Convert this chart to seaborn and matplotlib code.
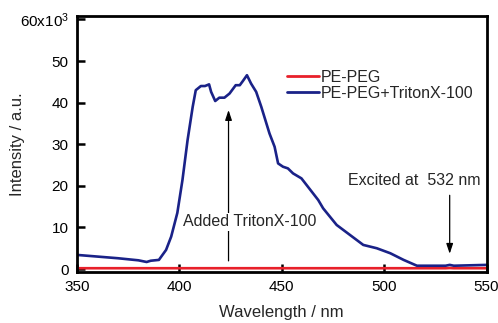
import numpy as np
import pandas as pd
import matplotlib
matplotlib.use("Agg")
import matplotlib.pyplot as plt
import seaborn as sns

# ---- data ----
wl_triton = [350, 360, 370, 380, 384, 386, 390, 393.5, 396, 399, 401.5, 404, 406.5, 408,
             410.5, 412.5, 414.5, 415.5, 417.5, 419.5, 422, 424.5, 427.5, 429.5, 431, 433,
             435, 437.5, 440, 442.5, 444, 446.5, 448.2, 450.6, 453, 455.5, 459.6, 463.7,
             467.8, 470.2, 476.8, 483.3, 489.8, 496.4, 503, 509.5, 516, 530, 532, 534, 550]
int_triton = [3.4, 3.0, 2.6, 2.1, 1.7, 2.0, 2.2, 4.6, 7.8, 13.5, 21.4, 31.0, 39.0, 43.0,
              44.0, 44.0, 44.4, 42.6, 40.4, 41.2, 41.2, 42.2, 44.2, 44.2, 45.2, 46.6,
              44.6, 42.6, 39.0, 35.0, 32.6, 29.4, 25.4, 24.6, 24.2, 23.0, 21.8, 19.2,
              16.6, 14.6, 10.6, 8.2, 5.8, 5.0, 3.8, 2.2, 0.8, 0.8, 1.0, 0.8, 1.0]
wl_pe = [350, 400, 450, 500, 530, 532, 534, 550]
int_pe = [0.2, 0.2, 0.2, 0.2, 0.2, 0.25, 0.2, 0.2]

series_names = ["PE-PEG", "PE-PEG+TritonX-100"]
xticks = [350, 400, 450, 500, 550]
yticks = [0, 10, 20, 30, 40, 50, 60]
ytick_labels = ["0", "10", "20", "30", "40", "50", "60x10$^3$"]

df = pd.concat([
    pd.DataFrame({"wl": wl_pe, "I": int_pe, "s": series_names[0]}),
    pd.DataFrame({"wl": wl_triton, "I": int_triton, "s": series_names[1]}),
])

sns.set_theme(style="white")
plt.rcParams["font.family"] = ["Liberation Sans", "DejaVu Sans"]
plt.rcParams["mathtext.fontset"] = "custom"
plt.rcParams["mathtext.rm"] = "Liberation Sans"
plt.rcParams["mathtext.default"] = "regular"

fig = plt.figure(figsize=(4.98, 3.23), dpi=100)
ax = fig.add_axes([0.1546, 0.158, 0.8224, 0.792])

sns.lineplot(data=df, x="wl", y="I", hue="s", hue_order=series_names,
             palette=["#e8202a", "#1a2288"], linewidth=1.9, ax=ax, sort=False,
             estimator=None)

ax.set_xlim(350, 550)
ax.set_ylim(-0.7, 60.8)
ax.set_xticks(xticks)
ax.set_yticks(yticks)
ax.set_yticklabels(ytick_labels)
ax.tick_params(direction="in", length=6, width=1.8, labelsize=11, colors="black",
               pad=6, bottom=True, left=True, top=False, right=False)
for sp in ax.spines.values():
    sp.set_linewidth(2.0)
    sp.set_color("black")
ax.set_xlabel("Wavelength / nm", fontsize=12, labelpad=8)
ax.set_ylabel("Intensity / a.u.", fontsize=12)
ax.yaxis.set_label_coords(-0.128, 0.5)

leg = ax.legend(loc="upper left", bbox_to_anchor=(0.512, 0.79), frameon=False,
                fontsize=11.5, handlelength=2.0, handletextpad=0.15, labelspacing=0.05,
                borderpad=0, borderaxespad=0)
for line in leg.get_lines():
    line.set_linewidth(2.0)

# annotations
ax.annotate("", xy=(424, 38.9), xytext=(424, 1.3),
            arrowprops=dict(arrowstyle="-|>,head_length=0.6,head_width=0.2",
                            color="black", lw=0.9, mutation_scale=10))
ax.text(434.3, 11.4, "Added TritonX-100", fontsize=11.5, ha="center", va="center",
        bbox=dict(facecolor="white", edgecolor="none", pad=1))
ax.annotate("", xy=(532, 3.0), xytext=(532, 18.4),
            arrowprops=dict(arrowstyle="-|>,head_length=0.6,head_width=0.2",
                            color="black", lw=0.9, mutation_scale=10))
ax.text(514.7, 21.4, "Excited at  532 nm", fontsize=11.5, ha="center", va="center")

fig.savefig("out.png", dpi=100)
